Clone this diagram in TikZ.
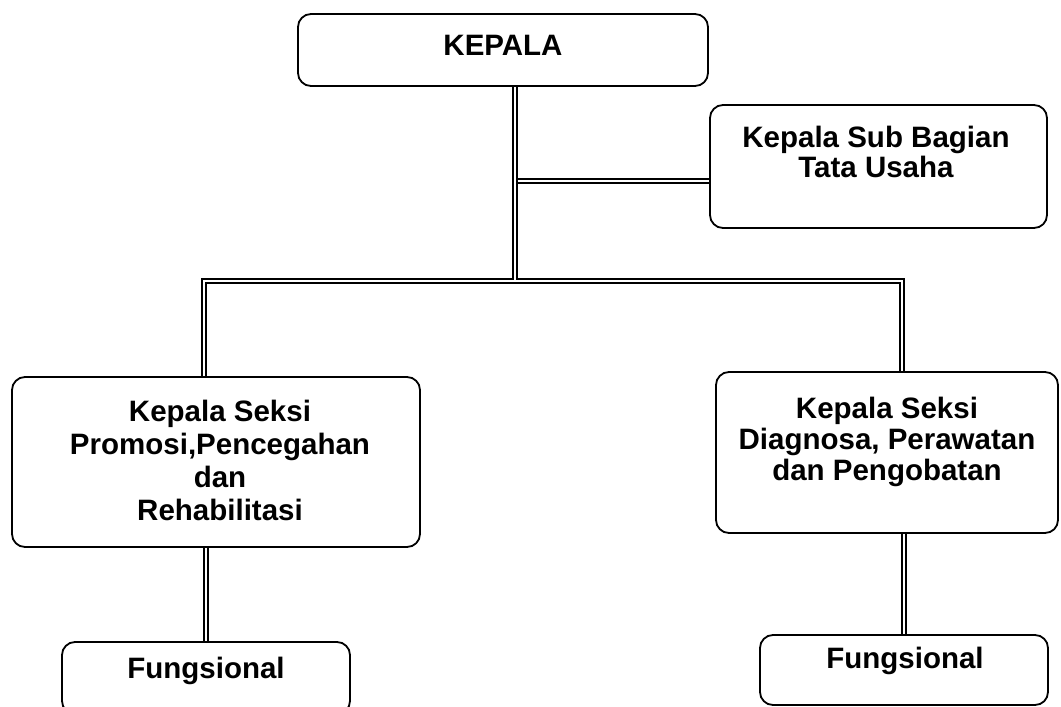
\documentclass[tikz,border=0pt]{standalone}
\usepackage{fontspec}
\setmainfont{Liberation Sans}
\usetikzlibrary{calc}
\begin{document}
\begin{tikzpicture}[x=1pt,y=-1pt,
  box/.style={draw, line width=1.8pt, rounded corners=13pt, inner sep=0pt},
  txt/.style={font=\bfseries\fontsize{29.5}{32}\selectfont, align=center, inner sep=0pt, anchor=base},
  dbl/.style={draw, line width=1.5pt, double, double distance=2.4pt}]
\useasboundingbox (0,0) rectangle (1061,707);
\clip (0,0) rectangle (1061,707);
% boxes
\node[box, minimum width=410pt, minimum height=72pt] (kep) at (503,50) {};
\node[box, minimum width=337pt, minimum height=123pt] (tu) at (878.5,166.5) {};
\node[box, minimum width=408pt, minimum height=170pt] (sl) at (216,462) {};
\node[box, minimum width=342pt, minimum height=161pt] (sr) at (887,452.5) {};
\node[box, minimum width=288pt, minimum height=72pt] (fl) at (206,678) {};
\node[box, minimum width=288pt, minimum height=70pt] (fr) at (904,670) {};
% texts (base anchor = baseline of the last line)
\node[txt] (kept) at (503,55) {KEPALA};
\node[txt, font=\bfseries\fontsize{29.5}{30}\selectfont] (tut) at (876,177) {Kepala Sub Bagian\\Tata Usaha};
\node[txt, font=\bfseries\fontsize{29.5}{32.7}\selectfont] (slt) at (220,520) {Kepala Seksi\\Promosi,Pencegahan\\dan\\Rehabilitasi};
\node[txt, font=\bfseries\fontsize{29.5}{31}\selectfont] (srt) at (887,480) {Kepala Seksi\\Diagnosa, Perawatan\\dan Pengobatan};
\node[txt] (flt) at (206,678) {Fungsional};
\node[txt] (frt) at (905,668) {Fungsional};
% connectors
\coordinate (busl) at (204,281);
\coordinate (busr) at (902,281);
\coordinate (trunk) at (515,279.5);
\coordinate (tuj) at (517.7,181);
\draw[dbl] (sl.north -| busl) -- (busl) -- (busr) -- (sr.north -| busr);
\draw[dbl] (kep.south -| trunk) -- (trunk);
\draw[dbl] (tuj) -- (tuj -| tu.west);
\draw[dbl] (fl.north |- sl.south) -- (fl.north);
\draw[dbl] (fr.north |- sr.south) -- (fr.north);
\end{tikzpicture}
\end{document}
